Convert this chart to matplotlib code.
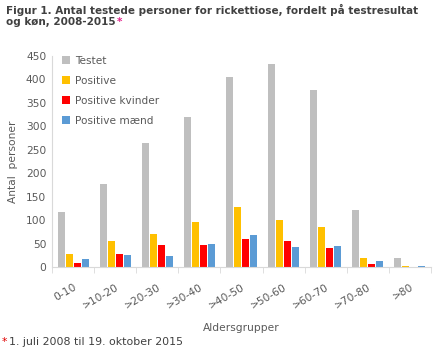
import matplotlib
matplotlib.use("Agg")
import matplotlib.pyplot as plt
import numpy as np

# data
groups = ['0-10', '>10-20', '>20-30', '>30-40', '>40-50', '>50-60', '>60-70', '>70-80', '>80']
testet = [118, 177, 265, 320, 406, 434, 378, 122, 19]
positive = [28, 56, 71, 96, 128, 100, 85, 19, 2]
pos_kvinder = [9, 28, 47, 47, 60, 56, 41, 6, 0]
pos_maend = [17, 26, 24, 50, 68, 43, 45, 13, 2]

series = [('Testet', testet, '#bfbfbf'),
          ('Positive', positive, '#ffc000'),
          ('Positive kvinder', pos_kvinder, '#ff0000'),
          ('Positive mænd', pos_maend, '#5b9bd5')]

txt = '#595959'
plt.rcParams['font.family'] = ['Verdana', 'DejaVu Sans']

fig = plt.figure(figsize=(4.4, 3.52), dpi=100)
ax = fig.add_axes([52 / 440, 1 - 267 / 352, 379 / 440, 211 / 352])

x = np.arange(len(groups))
w = 0.166
step = 0.19
for i, (name, vals, col) in enumerate(series):
    ax.bar(x + (i - 1.5) * step, vals, width=w, color=col, label=name)

ax.set_xlim(-0.5, len(groups) - 0.5)
ax.set_ylim(0, 450)
ax.set_yticks(range(0, 451, 50))
ax.set_xticks(x)
ax.set_xticklabels(groups, rotation=30, ha='right', rotation_mode='anchor')
ax.set_xticks(np.arange(-0.5, len(groups)), minor=True)
ax.tick_params(axis='x', which='major', length=0, labelsize=7.7, labelcolor=txt, pad=11)
ax.tick_params(axis='x', which='minor', length=4, color='#d9d9d9')
ax.tick_params(axis='y', length=0, labelsize=7.7, labelcolor=txt, pad=4)

for s in ['top', 'right']:
    ax.spines[s].set_visible(False)
ax.spines['left'].set_color('#d9d9d9')
ax.spines['bottom'].set_color('#d9d9d9')

ax.set_ylabel('Antal  personer', fontsize=7.7, color=txt, labelpad=6)
ax.set_xlabel('Aldersgrupper', fontsize=7.7, color=txt, labelpad=9)

leg = ax.legend(loc='upper left', bbox_to_anchor=(0.0, 1.045), frameon=False,
                fontsize=7.6, handlelength=0.8, handleheight=0.8,
                labelspacing=0.95, handletextpad=0.5)
for t in leg.get_texts():
    t.set_color(txt)

fig.text(6 / 440, 1 - 4 / 352, 'Figur 1. Antal testede personer for rickettiose, fordelt på testresultat',
         fontsize=7.5, fontweight='bold', color='#404040', va='top', ha='left')
t2 = fig.text(6 / 440, 1 - 17 / 352, 'og køn, 2008-2015', fontsize=7.5, fontweight='bold',
              color='#404040', va='top', ha='left')
fig.canvas.draw()
bb = t2.get_window_extent()
fig.text((bb.x1 + 1) / 440, 1 - 17 / 352, '*', fontsize=7.5, fontweight='bold',
         color='#e0218a', va='top', ha='left')

fig.text(2 / 440, 1 - 337 / 352, '*', fontsize=7.8, color='#e00000', va='top', ha='left')
fig.text(9 / 440, 1 - 337 / 352, '1. juli 2008 til 19. oktober 2015', fontsize=7.9,
         color='#404040', va='top', ha='left')

fig.savefig('out.png', dpi=100)
